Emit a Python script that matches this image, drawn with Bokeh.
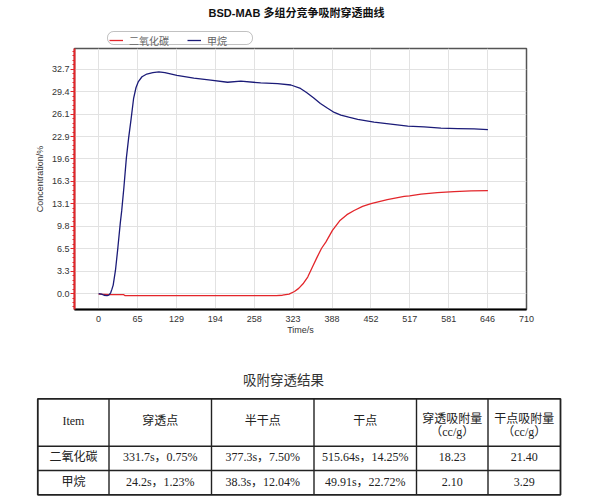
from bokeh.plotting import figure
from bokeh.models import Range1d, FixedTicker, Legend, LegendItem, CustomJSTickFormatter, BoxAnnotation
from bokeh.embed import file_html
from bokeh.resources import INLINE
from bokeh.core.properties import value

# ---------------- data ----------------
chart_title = "BSD-MAB 多组分竞争吸附穿透曲线"
series_names = ["二氧化碳", "甲烷"]
x_label = "Time/s"
y_label = "Concentration/%"
x_tick_labels = ["0", "65", "129", "194", "258", "323", "388", "452", "517", "581", "646", "710"]
y_tick_labels = ["0.0", "3.3", "6.5", "9.8", "13.1", "16.3", "19.6", "22.9", "26.1", "29.4", "32.7"]

time_co2 = [0, 20, 41, 44, 100, 200, 295, 305, 316, 325, 332, 340, 347, 355, 362, 370, 377,
            388, 400, 412, 424, 438, 452, 479, 507, 516, 535, 562, 590, 618, 646]
conc_co2 = [-0.1, -0.15, -0.15, -0.3, -0.3, -0.3, -0.3, -0.25, -0.1, 0.3, 0.75, 1.5, 2.4, 3.9, 5.2, 6.6, 7.5,
            9.2, 10.6, 11.5, 12.1, 12.7, 13.1, 13.7, 14.15, 14.25, 14.5, 14.7, 14.85, 14.95, 15.0]

time_ch4 = [0, 5, 9, 14, 17, 20, 22, 24.2, 28, 32, 36, 38.3, 42, 46, 49.9, 54, 58, 62, 66, 72, 80, 90,
            100, 110, 130, 158, 186, 214, 236, 269, 297, 319, 335, 345, 357, 368, 380, 391, 402,
            415, 430, 457, 485, 513, 540, 568, 596, 623, 646]
conc_ch4 = [0.0, -0.1, -0.25, -0.3, -0.25, 0.1, 0.6, 1.23, 3.4, 6.7, 10.3, 12.04, 15.5, 19.7, 22.72, 25.5, 28.4, 30.0, 30.9, 31.6, 32.0, 32.2,
            32.3, 32.2, 31.8, 31.4, 31.1, 30.8, 30.95, 30.7, 30.6, 30.4, 29.9, 29.3, 28.5, 27.7, 27.0, 26.4, 26.0,
            25.7, 25.4, 25.0, 24.7, 24.4, 24.3, 24.1, 24.05, 24.0, 23.9]

table_title = "吸附穿透结果"
table_headers = ["Item", "穿透点", "半干点", "干点", "穿透吸附量", "干点吸附量"]
table_header_units = ["", "", "", "", "（cc/g）", "（cc/g）"]
row_items = ["二氧化碳", "甲烷"]
breakthrough_pt = ["331.7s，0.75%", "24.2s，1.23%"]
half_dry_pt = ["377.3s，7.50%", "38.3s，12.04%"]
dry_pt = ["515.64s，14.25%", "49.91s，22.72%"]
breakthrough_cap = ["18.23", "2.10"]
dry_cap = ["21.40", "3.29"]

# ---------------- styles ----------------
SANS = "Liberation Sans, Noto Sans CJK SC"
SERIF = "Liberation Serif, Noto Sans CJK SC"
RED = "#e3262b"
BLUE = "#1b1b78"
W = 595

# ---------------- header: title + legend ----------------
H_H = 46
h = figure(width=W, height=H_H, x_range=Range1d(0, W), y_range=Range1d(H_H, 0),
           output_backend="svg", toolbar_location=None, min_border=0,
           x_axis_type=None, y_axis_type=None)
h.outline_line_color = None
h.background_fill_color = "white"
h.border_fill_color = "white"
h.text(x=[296], y=[12], text=[chart_title], text_align="center", text_baseline="middle",
       text_font=value(SANS), text_font_size="11px", text_font_style="bold", text_color="#111111")

# rounded legend frame
h.add_layout(BoxAnnotation(left=107, right=252, top=31, bottom=44, border_radius=6,
                           fill_color="white", fill_alpha=1, line_color="#333333", line_width=1,
                           editable=False))

# legend proxies (hidden here; the visible curves are drawn in the chart below)
lg_co2 = h.line(time_co2, conc_co2, line_color=RED, line_width=1.3, visible=False)
lg_ch4 = h.line(time_ch4, conc_ch4, line_color=BLUE, line_width=1.3, visible=False)
legend = Legend(items=[LegendItem(label=value(series_names[0]), renderers=[lg_co2]),
                       LegendItem(label=value(series_names[1]), renderers=[lg_ch4])],
                orientation="horizontal", location=(109, -1.5), padding=2, spacing=14,
                glyph_width=14, glyph_height=8, label_height=8, label_width=44, label_standoff=6,
                label_text_font=SANS, label_text_font_size="10px", label_text_color="#666666",
                inactive_fill_alpha=0.0,
                border_line_color=None, background_fill_alpha=0, margin=0)
h.add_layout(legend)

# ---------------- chart ----------------
p = figure(width=W, height=302, x_range=Range1d(-40, 710), y_range=Range1d(-2.33, 35.72),
           output_backend="svg", toolbar_location=None,
           min_border_left=74, min_border_right=69, min_border_top=2, min_border_bottom=39)
p.background_fill_color = "white"
p.border_fill_color = "white"
p.outline_line_color = "#555555"
p.outline_line_width = 1.5

x_step = 710 / 11
x_ticks = [i * x_step for i in range(len(x_tick_labels))]
y_step = 3.27
y_ticks = [i * y_step for i in range(len(y_tick_labels))]
y_minor = [k * y_step / 5 for k in range(-3, 55)]

p.xaxis.ticker = FixedTicker(ticks=x_ticks)
p.xaxis.formatter = CustomJSTickFormatter(args=dict(labels=x_tick_labels), code="return labels[index];")
p.yaxis.ticker = FixedTicker(ticks=y_ticks, minor_ticks=y_minor)
p.yaxis.formatter = CustomJSTickFormatter(args=dict(labels=y_tick_labels), code="return labels[index];")

p.xaxis.axis_label = x_label
p.yaxis.axis_label = y_label
for ax in (p.xaxis, p.yaxis):
    ax.major_label_text_font = "Liberation Sans"
    ax.major_label_text_font_size = "9px"
    ax.major_label_text_color = "#333333"
    ax.axis_label_text_font = "Liberation Sans"
    ax.axis_label_text_font_size = "9px"
    ax.axis_label_text_font_style = "normal"
    ax.axis_label_text_color = "#333333"

p.xaxis.axis_line_color = "black"
p.xaxis.axis_line_width = 2
p.xaxis.major_tick_line_color = None
p.xaxis.minor_tick_line_color = None
p.xaxis.major_tick_out = 0
p.xaxis.major_tick_in = 0
p.xaxis.minor_tick_out = 0
p.xaxis.major_label_standoff = 6
p.xaxis.axis_label_standoff = 0

p.yaxis.axis_line_color = RED
p.yaxis.axis_line_width = 2
p.yaxis.major_tick_line_color = RED
p.yaxis.major_tick_out = 4
p.yaxis.major_tick_in = 0
p.yaxis.minor_tick_line_color = RED
p.yaxis.minor_tick_out = 2
p.yaxis.minor_tick_in = 0
p.yaxis.major_label_standoff = 1
p.yaxis.axis_label_standoff = 4

p.grid.grid_line_color = "#e2e2e2"
p.grid.grid_line_width = 1

p.line(time_co2, conc_co2, line_color=RED, line_width=1.3)
p.line(time_ch4, conc_ch4, line_color=BLUE, line_width=1.3)

# ---------------- table ----------------
T_H = 148
t = figure(width=W, height=T_H, x_range=Range1d(0, W), y_range=Range1d(T_H, 0),
           output_backend="svg", toolbar_location=None, min_border=0,
           x_axis_type=None, y_axis_type=None)
t.outline_line_color = None
t.background_fill_color = "white"
t.border_fill_color = "white"

col_edges = [37.3, 108.5, 211, 313.5, 416, 487.5, 560]
row_edges = [50.3, 97.7, 122, 146.3]
col_centers = [(col_edges[i] + col_edges[i + 1]) / 2 for i in range(len(col_edges) - 1)]

inner_x = col_edges[1:-1]
t.segment(x0=inner_x, y0=[row_edges[0]] * len(inner_x), x1=inner_x, y1=[row_edges[-1]] * len(inner_x),
          line_color="#222222", line_width=1.4)
inner_y = row_edges[1:-1]
t.segment(x0=[col_edges[0]] * len(inner_y), y0=inner_y, x1=[col_edges[-1]] * len(inner_y), y1=inner_y,
          line_color="#222222", line_width=1.4)
t.quad(left=[col_edges[0]], right=[col_edges[-1]], top=[row_edges[0]], bottom=[row_edges[-1]],
       fill_color=None, line_color="#222222", line_width=1.8)

t.text(x=[283], y=[32], text=[table_title], text_align="center", text_baseline="middle",
       text_font=value(SERIF), text_font_size="13.5px", text_color="#333333")

single = [hd for hd, u in zip(table_headers, table_header_units) if not u]
single_x = [c for c, u in zip(col_centers, table_header_units) if not u]
double = [hd for hd, u in zip(table_headers, table_header_units) if u]
double_u = [u for u in table_header_units if u]
double_x = [c for c, u in zip(col_centers, table_header_units) if u]
text_kw = dict(text_align="center", text_baseline="middle", text_font=value(SERIF),
               text_font_size="12px", text_color="#222222")
t.text(x=single_x, y=[72] * len(single), text=single, **text_kw)
t.text(x=double_x, y=[70.3] * len(double), text=double, **text_kw)
t.text(x=double_x, y=[83.7] * len(double_u), text=double_u, **text_kw)

row_y = [108.7, 133.7]
for ci, colvals in enumerate([row_items, breakthrough_pt, half_dry_pt, dry_pt, breakthrough_cap, dry_cap]):
    t.text(x=[col_centers[ci]] * len(colvals), y=row_y, text=colvals, **text_kw)

open("out.html", "w").write(file_html([h, p, t], INLINE))
